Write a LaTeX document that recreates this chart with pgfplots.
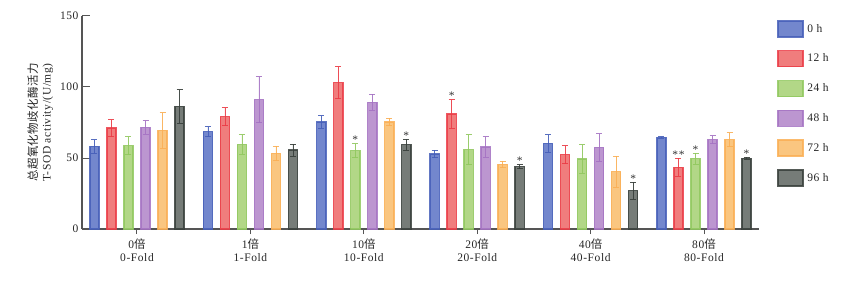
\documentclass[border=0pt]{standalone}
\usepackage{fontspec}
\setmainfont{Liberation Serif}[LetterSpace=5]
\newfontfamily\cjk{Noto Sans CJK SC}[LetterSpace=3]
\usepackage{pgfplots}
\pgfplotsset{compat=1.18}
\definecolor{cb}{RGB}{70,95,185}\definecolor{cbf}{RGB}{115,135,205}
\definecolor{cr}{RGB}{235,60,70}\definecolor{crf}{RGB}{240,125,125}
\definecolor{cg}{RGB}{145,200,95}\definecolor{cgf}{RGB}{178,215,135}
\definecolor{cp}{RGB}{165,115,195}\definecolor{cpf}{RGB}{188,150,208}
\definecolor{co}{RGB}{250,175,85}\definecolor{cof}{RGB}{250,198,128}
\definecolor{ck}{RGB}{55,62,58}\definecolor{ckf}{RGB}{118,124,120}
\definecolor{axc}{RGB}{85,85,85}
\newcommand\fs{\fontsize{11.5}{13.5}\selectfont}
\pgfplotsset{
  mybar/.style n args={3}{
    bar shift=#3, fill=#2, draw=#1, draw opacity=0.85, line width=1.4pt,
    /pgfplots/error bars/y dir=both, /pgfplots/error bars/y explicit,
    /pgfplots/error bars/error bar style={draw=#1, line width=0.7pt, opacity=0.9},
    /pgfplots/error bars/error mark options={draw=#1, rotate=90, mark size=3pt, line width=0.7pt}},
}
\begin{document}
\begin{tikzpicture}[font=\fs]
\useasboundingbox (-82pt,-52pt) rectangle (779pt,229pt);
\begin{axis}[
  at={(0pt,0pt)}, anchor=south west,
  scale only axis, width=677pt, height=213pt,
  ybar, bar width=0.082,
  xmin=-0.485, xmax=5.485, ymin=0, ymax=150,
  axis x line*=bottom, axis y line*=left,
  axis line style={draw=axc, line width=1.1pt},
  ytick={0,50,100,150},
  xtick={0,1,2,3,4,5},
  xticklabels={{0{\cjk 倍}\\0-Fold},{1{\cjk 倍}\\1-Fold},{10{\cjk 倍}\\10-Fold},{20{\cjk 倍}\\20-Fold},{40{\cjk 倍}\\40-Fold},{80{\cjk 倍}\\80-Fold}},
  xticklabel style={align=center, yshift=-6pt, text=black!85, font=\fs},
  yticklabel style={text=black!85, font=\fs},
  /pgf/number format/assume math mode=true,
  tick align=inside, major tick length=8pt,
  xtick style={draw=axc, line width=1pt, /pgfplots/major tick length=5pt, yshift=-5pt},
  ytick style={draw=axc, line width=1pt},
  ylabel={{\cjk 总超氧化物歧化酶活力}\\T-SOD activity/(U/mg)},
  ylabel style={align=center, text=black!85, font=\fs},
  clip=false,
  legend style={at={(1.027,0.981)}, anchor=north west, draw=none, fill=none,
    inner sep=0pt, row sep=12.4pt, font=\fs, nodes={inner sep=1pt, inner xsep=3.5pt, anchor=west, text=black!85}},
  legend cell align=left,
  legend image code/.code={\draw[#1, line width=1.4pt] (0pt,-8pt) rectangle (25pt,8pt);},
]
\addplot[mybar={cb}{cbf}{-0.375}] coordinates {
 (0,58.2) +- (0,4.7) (1,68.5) +- (0,3.5) (2,75.4) +- (0,4.5)
 (3,52.8) +- (0,2.6) (4,60.3) +- (0,6.1) (5,64.6) +- (0,0.5)};
\addplot[mybar={cr}{crf}{-0.225}] coordinates {
 (0,71.1) +- (0,6.0) (1,79.1) +- (0,6.3) (2,103.0) +- (0,11.3)
 (3,81.0) +- (0,10.1) (4,52.3) +- (0,6.3) (5,43.4) +- (0,6.3)};
\addplot[mybar={cg}{cgf}{-0.075}] coordinates {
 (0,58.7) +- (0,6.3) (1,59.6) +- (0,6.8) (2,55.2) +- (0,4.9)
 (3,55.9) +- (0,10.5) (4,49.3) +- (0,10.1) (5,49.5) +- (0,4.0)};
\addplot[mybar={cp}{cpf}{0.075}] coordinates {
 (0,71.6) +- (0,4.7) (1,91.1) +- (0,16.2) (2,89.2) +- (0,5.6)
 (3,57.7) +- (0,7.3) (4,57.5) +- (0,9.6) (5,62.9) +- (0,2.8)};
\addplot[mybar={co}{cof}{0.225}] coordinates {
 (0,69.5) +- (0,12.4) (1,53.3) +- (0,5.2) (2,75.4) +- (0,2.6)
 (3,45.5) +- (0,2.4) (4,40.4) +- (0,10.8) (5,62.9) +- (0,4.9)};
\addplot[mybar={ck}{ckf}{0.375}] coordinates {
 (0,86.4) +- (0,11.7) (1,55.6) +- (0,4.2) (2,59.4) +- (0,3.8)
 (3,43.9) +- (0,1.4) (4,27.0) +- (0,6.1) (5,49.8) +- (0,0.7)};
\legend{0 h,12 h,24 h,48 h,72 h,96 h}
\addplot[only marks, mark=none, bar shift=0pt, point meta=explicit symbolic, nodes near coords,
  nodes near coords style={anchor=south, inner sep=0.5pt, yshift=-1pt, text=black!80, font=\fs},
  forget plot] coordinates {
 (1.925,60.1) [*] (2.375,63.1) [*] (2.775,91.1) [*] (3.375,45.3) [*]
 (4.375,33.1) [*] (4.775,49.8) [**] (4.925,53.5) [*] (5.375,50.5) [*]};
\end{axis}
\end{tikzpicture}
\end{document}
